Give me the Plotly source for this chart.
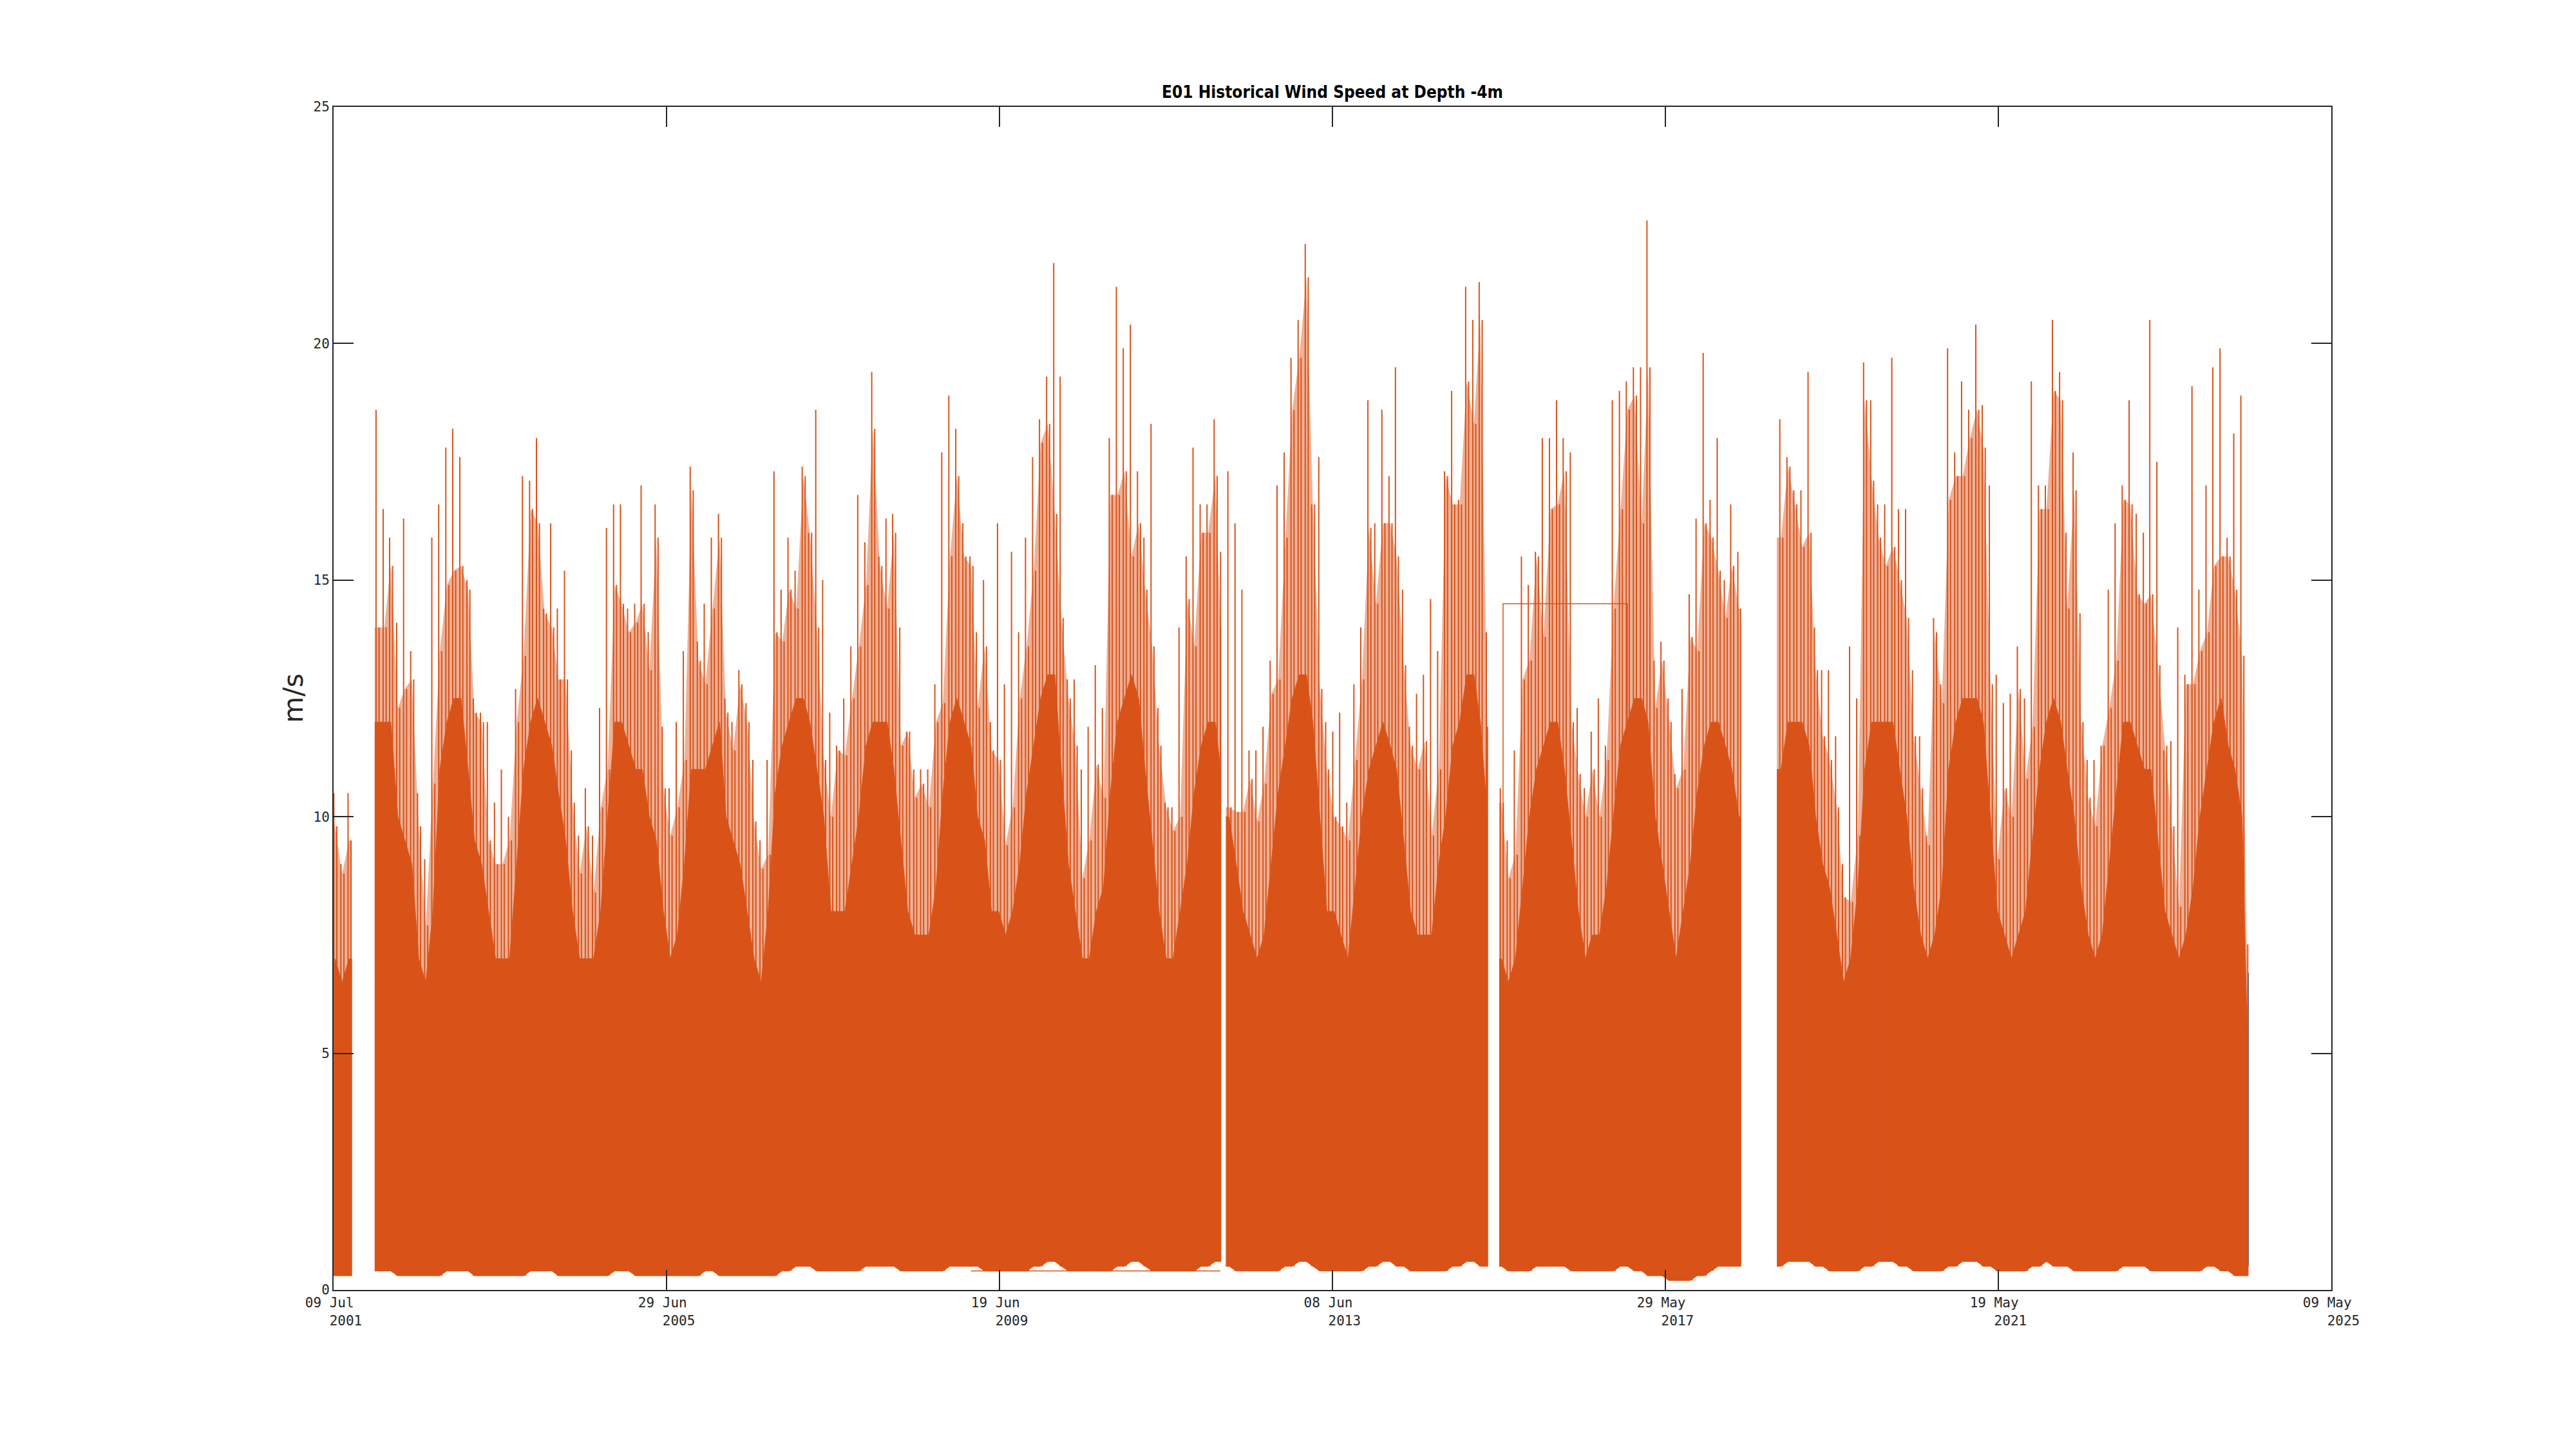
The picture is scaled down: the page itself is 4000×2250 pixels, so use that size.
import pandas as pd
import plotly.graph_objects as go

# ---------------- data (monthly statistics) ----------------
# months covered: Jul 2001 .. May 2024
month_first = "2001-07-01"
month_last = "2024-05-01"

# monthly maximum wind speed (m/s)
peak = [
    10.5, 9.0, 10.5, None, None, None,                                   # 2001 Jul-Dec
    18.6, 16.5, 15.9, 14.1, 16.3, 13.5, 10.5, 9.1, 15.9, 16.6, 17.8, 18.2,  # 2002
    17.6, 15.0, 12.5, 12.2, 12.0, 10.3, 11.0, 10.0, 12.7, 17.2, 17.1, 18.0,  # 2003
    14.4, 16.2, 14.4, 15.2, 11.4, 9.6, 10.6, 9.6, 12.3, 16.1, 16.6, 16.6,    # 2004
    14.4, 14.5, 17.0, 13.9, 16.6, 11.9, 10.6, 12.0, 13.5, 17.4, 13.7, 14.5,  # 2005
    15.9, 16.4, 12.5, 12.0, 13.1, 12.4, 11.2, 9.5, 11.2, 17.3, 14.8, 15.9,   # 2006
    15.2, 17.4, 16.0, 18.6, 15.0, 12.2, 11.5, 12.5, 13.6, 16.8, 15.8, 19.4,  # 2007
    15.5, 16.3, 16.4, 14.0, 11.8, 11.0, 11.0, 11.0, 12.8, 17.7, 18.9, 18.2,  # 2008
    16.2, 15.5, 13.9, 15.0, 12.0, 16.2, 12.8, 15.6, 13.9, 15.9, 17.6, 18.4,  # 2009
    19.3, 21.7, 19.3, 12.9, 12.9, 11.0, 11.9, 13.2, 12.3, 18.0, 21.2, 19.9,  # 2010
    20.4, 17.3, 15.9, 18.3, 12.3, 10.3, 10.2, 14.0, 15.5, 17.8, 16.6, 16.6,  # 2011
    18.4, 15.6, 17.3, 16.2, 14.8, 11.4, 11.4, 11.9, 13.3, 17.0, 17.7, 19.7,  # 2012
    20.5, 22.1, 16.6, 17.6, 12.0, 11.8, 12.2, 10.3, 12.8, 14.0, 18.8, 16.2,  # 2013
    18.6, 17.2, 19.5, 14.8, 11.9, 12.6, 13.0, 14.6, 13.5, 17.3, 19.0, 16.7,  # 2014
    21.2, 20.5, 21.3, 13.9, None, 10.6, 9.5, 11.4, 15.5, 14.9, 15.6, 18.0,   # 2015
    18.0, 18.8, 18.0, 17.7, 12.3, 10.6, 11.8, 12.5, 11.5, 18.8, 19.0, 19.2,  # 2016
    19.5, 19.5, 22.6, 13.3, 13.7, 12.5, 10.9, 12.7, 14.7, 16.3, 19.8, 16.7,  # 2017
    18.0, 15.0, 16.6, 15.6, None, None, None, None, None, 18.4, 17.6, 16.9,  # 2018
    16.9, 19.4, 14.0, 13.1, 13.1, 11.7, 9.0, 13.6, 12.5, 19.6, 18.8, 16.6,   # 2019
    16.6, 19.7, 16.5, 16.5, 13.1, 11.7, 9.6, 14.2, 12.8, 19.9, 17.7, 19.2,   # 2020
    18.6, 20.4, 18.7, 17.0, 13.0, 12.4, 12.6, 13.6, 12.5, 19.2, 17.0, 17.0,  # 2021
    20.5, 19.4, 16.0, 17.7, 14.3, 11.2, 11.2, 11.5, 14.8, 16.2, 17.0, 18.8,  # 2022
    16.4, 16.0, 20.5, 17.5, 11.4, 11.6, 14.0, 13.0, 19.1, 14.8, 17.0, 19.5,  # 2023
    19.9, 15.9, 18.1, 18.9, 7.3,                                             # 2024 Jan-May
]

# second-highest spike per month (m/s)
second = [
    9.8, 8.8, 9.5, None, None, None,
    14.0, 14.0, 15.3, 12.3, 12.7, 12.9, 9.8, 7.7, 10.7, 13.5, 14.9, 15.2,
    15.3, 14.8, 12.2, 12.0, 9.5, 9.0, 9.0, 9.5, 12.0, 13.4, 16.5, 16.2,
    14.3, 14.0, 12.9, 12.9, 10.3, 8.8, 9.8, 8.4, 10.2, 11.0, 14.9, 14.5,
    13.9, 14.1, 14.5, 13.1, 15.9, 10.6, 9.6, 10.2, 11.2, 16.9, 13.3, 12.8,
    14.4, 15.9, 12.2, 11.4, 12.8, 12.0, 9.9, 8.9, 9.2, 13.9, 13.7, 14.8,
    14.4, 17.2, 16.0, 14.0, 11.2, 10.0, 11.4, 11.3, 12.5, 13.6, 14.9, 18.2,
    15.3, 14.4, 16.0, 11.5, 11.8, 10.4, 10.7, 10.2, 12.0, 12.4, 15.5, 17.2,
    15.5, 15.3, 12.3, 13.6, 11.4, 11.2, 9.4, 10.2, 12.5, 13.6, 15.2, 17.9,
    18.3, 16.4, 14.2, 12.5, 11.5, 8.7, 9.5, 11.1, 10.4, 16.8, 16.8, 17.3,
    15.5, 16.2, 14.8, 13.6, 11.5, 10.2, 9.7, 10.0, 14.6, 13.6, 16.0, 16.0,
    17.2, 14.0, 10.2, 10.1, 10.1, 10.8, 9.9, 10.7, 12.6, 12.9, 15.9, 18.6,
    19.7, 21.4, 16.6, 12.7, 11.0, 10.0, 9.8, 9.5, 11.2, 12.9, 16.1, 14.5,
    16.2, 16.2, 15.5, 13.2, 11.5, 11.0, 11.6, 9.6, 11.0, 17.2, 16.6, 16.6,
    19.2, 18.3, 20.5, 11.9, None, 10.3, 8.7, 9.2, 12.9, 13.3, 15.5, 13.8,
    16.5, 16.6, 17.3, 12.0, 10.9, 10.0, 11.0, 10.0, 11.2, 14.4, 16.5, 18.6,
    18.9, 16.2, 19.5, 12.3, 13.3, 12.0, 10.6, 11.0, 13.8, 13.5, 16.2, 15.9,
    15.2, 14.2, 15.3, 14.4, None, None, None, None, None, 15.9, 17.4, 16.6,
    15.7, 16.0, 13.1, 11.7, 11.2, 10.2, 8.3, 8.2, 9.6, 18.8, 17.1, 15.9,
    15.3, 15.7, 15.0, 14.2, 11.7, 10.6, 9.4, 13.9, 12.4, 16.7, 17.2, 17.2,
    18.0, 18.6, 17.8, 12.8, 9.1, 10.6, 10.0, 12.7, 10.8, 11.9, 16.5, 16.5,
    19.0, 18.8, 14.4, 16.9, 12.0, 10.4, 9.8, 11.5, 12.3, 13.3, 16.7, 16.6,
    14.7, 14.5, 14.7, 13.2, 11.5, 9.8, 8.1, 12.8, 12.8, 13.5, 13.9, 15.3,
    15.5, 15.5, 14.8, 13.4, 6.0,
]

# top of the dense (solid) part of the record per month (m/s)
body = [
    7.0, 6.5, 7.0, None, None, None,
    12.0, 12.0, 12.0, 10.0, 9.5, 9.0, 7.0, 6.5, 8.0, 11.0, 12.0, 12.5,
    12.5, 11.0, 9.5, 9.0, 8.0, 7.0, 7.0, 7.0, 9.0, 11.0, 12.0, 12.5,
    12.0, 11.5, 10.5, 9.5, 8.0, 7.0, 7.0, 7.0, 8.0, 10.0, 12.0, 12.0,
    11.5, 11.0, 11.0, 10.0, 9.5, 8.0, 7.0, 7.5, 9.0, 11.0, 11.0, 11.0,
    11.5, 12.0, 10.0, 9.5, 9.0, 8.0, 7.0, 6.5, 8.0, 10.5, 11.5, 12.0,
    12.5, 12.5, 12.0, 11.0, 10.0, 8.0, 8.0, 8.0, 9.0, 10.0, 11.5, 12.0,
    12.0, 12.0, 11.0, 9.5, 8.0, 7.5, 7.5, 7.5, 8.5, 10.5, 12.0, 12.5,
    12.0, 11.5, 10.0, 9.5, 8.0, 8.0, 7.5, 8.0, 9.0, 10.5, 11.5, 12.5,
    13.0, 13.0, 11.0, 9.0, 8.0, 7.0, 7.0, 8.0, 8.5, 10.5, 12.0, 12.5,
    13.0, 12.5, 11.0, 9.5, 8.0, 7.0, 7.0, 8.0, 9.0, 10.5, 11.5, 12.0,
    12.0, 11.0, 10.0, 9.0, 8.0, 7.5, 7.0, 7.5, 9.0, 10.5, 11.5, 12.5,
    13.0, 13.0, 12.0, 10.0, 8.0, 8.0, 7.5, 7.0, 8.5, 10.0, 11.0, 11.5,
    12.0, 11.5, 11.0, 9.5, 8.0, 7.5, 7.5, 7.5, 9.0, 10.0, 11.5, 12.0,
    13.0, 13.0, 12.0, 10.0, None, 7.0, 6.5, 7.0, 8.5, 10.0, 11.0, 11.5,
    12.0, 12.0, 11.0, 9.5, 8.0, 7.0, 7.5, 7.5, 8.5, 10.0, 11.5, 12.0,
    12.5, 12.5, 12.0, 10.0, 9.0, 8.0, 7.0, 8.0, 9.0, 10.5, 11.5, 12.0,
    12.0, 11.5, 11.0, 10.0, None, None, None, None, None, 11.0, 12.0, 12.0,
    12.0, 11.5, 10.0, 9.0, 8.5, 7.5, 6.5, 7.0, 8.5, 11.0, 12.0, 12.0,
    12.0, 12.0, 11.0, 10.0, 8.5, 7.5, 7.0, 7.5, 8.5, 11.0, 12.0, 12.5,
    12.5, 12.5, 12.0, 10.0, 8.0, 7.5, 7.0, 7.5, 8.0, 9.5, 11.0, 12.0,
    12.5, 12.0, 11.0, 10.0, 8.5, 7.5, 7.0, 7.5, 9.0, 10.5, 12.0, 12.0,
    11.5, 11.0, 11.0, 9.5, 8.0, 7.5, 7.0, 7.5, 8.5, 10.0, 11.0, 12.0,
    12.5, 11.5, 11.0, 10.0, 5.0,
]

# lower edge of the record per month (m/s)
floor = [
    0.3, 0.3, 0.3, None, None, None,
    0.4, 0.4, 0.4, 0.3, 0.3, 0.3, 0.3, 0.3, 0.3, 0.3, 0.4, 0.4,
    0.4, 0.4, 0.3, 0.3, 0.3, 0.3, 0.3, 0.3, 0.3, 0.3, 0.4, 0.4,
    0.4, 0.4, 0.3, 0.3, 0.3, 0.3, 0.3, 0.3, 0.3, 0.3, 0.4, 0.4,
    0.4, 0.3, 0.3, 0.3, 0.3, 0.3, 0.3, 0.3, 0.3, 0.3, 0.3, 0.4,
    0.4, 0.3, 0.3, 0.3, 0.3, 0.3, 0.3, 0.3, 0.3, 0.3, 0.4, 0.4,
    0.5, 0.5, 0.5, 0.4, 0.4, 0.4, 0.4, 0.4, 0.4, 0.4, 0.5, 0.5,
    0.5, 0.5, 0.5, 0.4, 0.4, 0.4, 0.4, 0.4, 0.4, 0.4, 0.5, 0.5,
    0.5, 0.5, 0.5, 0.4, 0.4, 0.4, 0.4, 0.4, 0.4, 0.4, 0.5, 0.5,
    0.6, 0.6, 0.5, 0.4, 0.4, 0.4, 0.4, 0.4, 0.4, 0.4, 0.5, 0.5,
    0.6, 0.6, 0.5, 0.4, 0.4, 0.4, 0.4, 0.4, 0.4, 0.4, 0.5, 0.5,
    0.6, 0.6, 0.5, 0.4, 0.4, 0.4, 0.4, 0.4, 0.4, 0.4, 0.5, 0.5,
    0.6, 0.6, 0.5, 0.4, 0.4, 0.4, 0.4, 0.4, 0.4, 0.4, 0.5, 0.5,
    0.6, 0.6, 0.5, 0.5, 0.4, 0.4, 0.4, 0.4, 0.4, 0.4, 0.5, 0.5,
    0.6, 0.6, 0.5, 0.5, None, 0.5, 0.4, 0.4, 0.4, 0.4, 0.5, 0.5,
    0.5, 0.5, 0.5, 0.4, 0.4, 0.4, 0.4, 0.4, 0.4, 0.4, 0.5, 0.5,
    0.4, 0.4, 0.3, 0.3, 0.3, 0.2, 0.2, 0.2, 0.2, 0.3, 0.3, 0.4,
    0.5, 0.5, 0.5, 0.5, None, None, None, None, None, 0.5, 0.6, 0.6,
    0.6, 0.6, 0.5, 0.5, 0.4, 0.4, 0.4, 0.4, 0.4, 0.5, 0.5, 0.6,
    0.6, 0.6, 0.5, 0.5, 0.4, 0.4, 0.4, 0.4, 0.4, 0.5, 0.5, 0.6,
    0.6, 0.6, 0.5, 0.5, 0.4, 0.4, 0.4, 0.4, 0.4, 0.5, 0.5, 0.6,
    0.5, 0.5, 0.5, 0.4, 0.4, 0.4, 0.4, 0.4, 0.4, 0.4, 0.5, 0.5,
    0.5, 0.5, 0.4, 0.4, 0.4, 0.4, 0.4, 0.4, 0.4, 0.4, 0.5, 0.5,
    0.4, 0.4, 0.3, 0.3, 0.3,
]

# periods with recorded data
record_start = ["2001-07-09", "2002-01-04", "2012-03-01", "2015-06-05", "2018-09-27"]
record_end = ["2001-09-26", "2012-02-07", "2015-04-15", "2018-04-22", "2024-05-10"]

# stray connecting lines drawn by the original plot
connector_a_dates = ["2009-02-14", "2012-02-06"]
connector_a_vals = [0.4, 0.4]
connector_b_dates = ["2015-06-22", "2015-06-22", "2016-12-15", "2016-12-15"]
connector_b_vals = [1.0, 14.5, 14.5, 8.0]

# first series (blue), only visible at the very end
blue_dates = ["2024-05-12", "2024-05-12"]
blue_vals = [0.5, 6.7]

# axis ticks
x_tickvals = ["2001-07-09", "2005-06-29", "2009-06-19", "2013-06-08",
              "2017-05-29", "2021-05-19", "2025-05-09"]
x_ticktext = ["09 Jul\u00a0<br>\u00a0\u00a0\u00a02001", "29 Jun\u00a0<br>\u00a0\u00a0\u00a02005",
              "19 Jun\u00a0<br>\u00a0\u00a0\u00a02009", "08 Jun\u00a0<br>\u00a0\u00a0\u00a02013",
              "29 May\u00a0<br>\u00a0\u00a0\u00a02017", "19 May\u00a0<br>\u00a0\u00a0\u00a02021",
              "09 May\u00a0<br>\u00a0\u00a0\u00a02025"]
y_tickvals = [0, 5, 10, 15, 20, 25]

title_text = "E01 Historical Wind Speed at Depth -4m"
y_label = "m/s"

# ---------------- build traces ----------------
ORANGE = "#D95319"
BAND = "rgba(217,83,25,0.45)"
BLUE = "#0072BD"
AX = "#262626"

months = pd.date_range(month_first, month_last, freq="MS")

solid_x, solid_y = [], []
band_x, band_y = [], []
needle_x, needle_y = [], []
for s_str, e_str in zip(record_start, record_end):
    s, e = pd.Timestamp(s_str), pd.Timestamp(e_str)
    xs, top, bot, sec = [], [], [], []
    for m, pk, sc, bd, fl in zip(months, peak, second, body, floor):
        if pk is None:
            continue
        m_end = m + pd.offsets.MonthEnd(0)
        if m_end < s or m > e:
            continue
        x_mid = min(max(m + pd.Timedelta(days=14), s), e)
        x_pk = min(max(m + pd.Timedelta(days=9), s), e)
        x_sc = min(max(m + pd.Timedelta(days=22), s), e)
        xs.append(x_mid)
        top.append(bd)
        bot.append(fl)
        sec.append(sc)
        needle_x += [x_pk, x_pk, None, x_sc, x_sc, None]
        needle_y += [fl, pk, None, fl, sc, None]
    if not xs:
        continue
    xs = [s] + xs + [e]
    top = [top[0]] + top + [top[-1]]
    bot = [bot[0]] + bot + [bot[-1]]
    sec = [sec[0]] + sec + [sec[-1]]
    solid_x += xs + xs[::-1] + [None]
    solid_y += top + bot[::-1] + [None]
    band_x += xs + xs[::-1] + [None]
    band_y += sec + top[::-1] + [None]

fig = go.Figure()
fig.add_trace(go.Scatter(x=blue_dates, y=blue_vals, mode="lines",
                         line=dict(color=BLUE, width=2), showlegend=False, hoverinfo="skip"))
# sparse spikes above the dense part (shown as a lighter band)
fig.add_trace(go.Scatter(x=band_x, y=band_y, mode="lines", fill="toself",
                         fillcolor=BAND, line=dict(width=0),
                         showlegend=False, hoverinfo="skip"))
fig.add_trace(go.Scatter(x=solid_x, y=solid_y, mode="lines", fill="toself",
                         fillcolor=ORANGE, line=dict(color=ORANGE, width=1),
                         showlegend=False, hoverinfo="skip"))
fig.add_trace(go.Scatter(x=needle_x, y=needle_y, mode="lines",
                         line=dict(color=ORANGE, width=2), showlegend=False, hoverinfo="skip"))
fig.add_trace(go.Scatter(x=connector_a_dates, y=connector_a_vals, mode="lines",
                         line=dict(color=ORANGE, width=1.5), showlegend=False, hoverinfo="skip"))
fig.add_trace(go.Scatter(x=connector_b_dates, y=connector_b_vals, mode="lines",
                         line=dict(color=ORANGE, width=1.5), showlegend=False, hoverinfo="skip"))

tick_font = dict(family="DejaVu Sans Mono", size=21, color=AX)

fig.update_layout(
    width=4000, height=2250,
    margin=dict(l=518, r=380, t=166, b=247, pad=0),
    paper_bgcolor="white", plot_bgcolor="white",
    showlegend=False,
    xaxis=dict(type="date", range=[x_tickvals[0], x_tickvals[-1]],
               tickmode="array", tickvals=x_tickvals, ticktext=x_ticktext,
               ticks="inside", ticklen=31, tickwidth=2, tickcolor=AX,
               showline=True, linecolor=AX, linewidth=2, mirror="ticks",
               showgrid=False, zeroline=False, tickfont=tick_font, tickangle=0),
    yaxis=dict(range=[0, 25], tickmode="array", tickvals=y_tickvals,
               ticks="inside", ticklen=31, tickwidth=2, tickcolor=AX,
               showline=True, linecolor=AX, linewidth=2, mirror="ticks",
               showgrid=False, zeroline=False, tickfont=tick_font),
    annotations=[
        dict(text="<b>" + title_text + "</b>", xref="paper", yref="paper",
             x=0.5, y=1, xanchor="center", yanchor="bottom", yshift=6, showarrow=False,
             font=dict(family="DejaVu Sans Condensed, DejaVu Sans", size=26, color="black")),
        dict(text=y_label, xref="paper", yref="paper", x=-0.0203, y=0.5,
             xanchor="center", yanchor="middle", textangle=-90, showarrow=False,
             font=dict(family="DejaVu Sans", size=42, color=AX)),
    ],
)

fig.write_html("out.html", config={"displayModeBar": False},
               post_script="document.body.style.margin='0';")
